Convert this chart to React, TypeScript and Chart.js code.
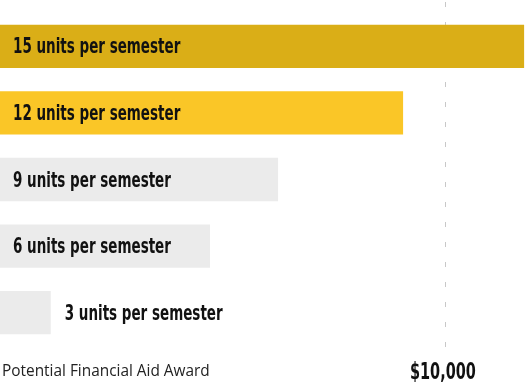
import React, { useEffect, useRef } from "react";
import { Chart, registerables } from "chart.js";

Chart.register(...registerables);

const categories = [
  "15 units per semester",
  "12 units per semester",
  "9 units per semester",
  "6 units per semester",
  "3 units per semester",
];
const awardValues = [11780, 9060, 6250, 4720, 1140];
const barColors = ["#DAAE17", "#FAC627", "#EBEBEB", "#EBEBEB", "#EBEBEB"];
const referenceTick = 10000;
const referenceTickLabel = "$10,000";
const axisTitle = "Potential Financial Aid Award";

const condensedFamily = "'DejaVu Sans Condensed', 'DejaVu Sans', sans-serif";
const squeeze = 0.714;

function drawCondensed(ctx: any, text: string, x: number, y: number, size: number, align: "left" | "center") {
  ctx.save();
  ctx.font = `bold ${size}px ${condensedFamily}`;
  const w = ctx.measureText(text).width * squeeze;
  const startX = align === "center" ? x - w / 2 : x;
  ctx.translate(startX, y);
  ctx.scale(squeeze, 1);
  ctx.textAlign = "left";
  ctx.textBaseline = "alphabetic";
  ctx.fillText(text, 0, 0);
  ctx.restore();
  return w;
}

const overlayPlugin = {
  id: "overlay",
  beforeDatasetsDraw(chart: any) {
    const ctx = chart.ctx;
    const x = Math.round(chart.scales.x.getPixelForValue(referenceTick)) + 0.5;
    ctx.save();
    ctx.strokeStyle = "#C8C8C8";
    ctx.lineWidth = 1;
    ctx.setLineDash([5, 15]);
    ctx.beginPath();
    ctx.moveTo(x, 2);
    ctx.lineTo(x, 350);
    ctx.stroke();
    ctx.restore();
  },
  afterDatasetsDraw(chart: any) {
    const ctx = chart.ctx;
    const meta = chart.getDatasetMeta(0);
    ctx.save();
    ctx.fillStyle = "#111111";
    meta.data.forEach((bar: any, i: number) => {
      const text = categories[i];
      ctx.font = `bold 21px ${condensedFamily}`;
      const w = ctx.measureText(text).width * squeeze;
      const left = 13;
      let tx = left;
      if (bar.x < left + w + 10) tx = bar.x + 14;
      drawCondensed(ctx, text, tx, bar.y + 7, 21, "left");
    });
    const xr = chart.scales.x.getPixelForValue(referenceTick);
    drawCondensed(ctx, referenceTickLabel, xr - 2, 379, 22.5, "center");
    ctx.textAlign = "left";
    ctx.textBaseline = "alphabetic";
    ctx.font = "15.4px 'Open Sans', sans-serif";
    ctx.fillStyle = "#222222";
    ctx.fillText(axisTitle, 2, 376);
    ctx.restore();
  },
};

export default function App() {
  const ref = useRef<HTMLCanvasElement | null>(null);
  useEffect(() => {
    document.body.style.margin = "0";
    if (!ref.current) return;
    const chart = new Chart(ref.current, {
      type: "bar",
      data: {
        labels: categories,
        datasets: [
          {
            data: awardValues,
            backgroundColor: barColors,
            borderWidth: 0,
            categoryPercentage: 1,
            barPercentage: 0.65,
          },
        ],
      },
      options: {
        indexAxis: "y",
        animation: false,
        responsive: false,
        layout: { padding: { top: 13, bottom: 40, left: 0, right: 0 } },
        plugins: { legend: { display: false }, tooltip: { enabled: false } },
        scales: {
          x: { display: false, min: 0, max: 11800 },
          y: { display: false },
        },
      },
      plugins: [overlayPlugin],
    });
    return () => chart.destroy();
  }, []);
  return (
    <div style={{ width: 525, height: 386 }}>
      <canvas ref={ref} width={525} height={386} />
    </div>
  );
}
